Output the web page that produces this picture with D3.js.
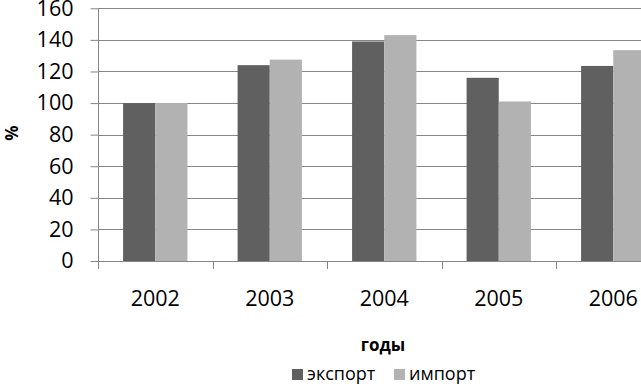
<!DOCTYPE html>
<html>
<head>
<meta charset="utf-8">
<script src="https://cdn.jsdelivr.net/npm/d3@7"></script>
<style>
	body { margin: 0; background: #ffffff; }
	svg { display: block; font-family: "Open Sans", "DejaVu Sans", sans-serif; }
</style>
</head>
<body>
<svg id="chart" width="641" height="384"></svg>
<script>
var years = ["2002", "2003", "2004", "2005", "2006"];
var exportValues = [100, 124, 139, 116, 123.5];
var importValues = [100, 127.5, 143, 101, 133.5];
var yTicks = [0, 20, 40, 60, 80, 100, 120, 140, 160];
var seriesNames = ["экспорт", "импорт"];
var seriesColors = ["#606060", "#b2b2b2"];

var svg = d3.select("#chart");

// plot area runs past the right edge, like the original
var x = d3.scaleBand()
	.domain(years)
	.range([98, 98 + 5 * 114.5]);

var y = d3.scaleLinear()
	.domain([0, 160])
	.range([261, 8.3]);

var inner = d3.scaleBand()
	.domain(seriesNames)
	.range([0, x.bandwidth()])
	.paddingInner(0)
	.paddingOuter(0.78);

// gridlines
svg.append("g")
	.selectAll("line")
	.data(yTicks.filter(function(d) { return d > 0; }))
	.enter().append("line")
	.attr("x1", 98)
	.attr("x2", 641)
	.attr("y1", function(d) { return Math.round(y(d)) + 0.5; })
	.attr("y2", function(d) { return Math.round(y(d)) + 0.5; })
	.style("stroke", "#868686")
	.style("stroke-width", 1);

// bars
var rows = years.map(function(yr, i) {
	return { year: yr, values: [exportValues[i], importValues[i]] };
});

var groups = svg.append("g")
	.selectAll("g")
	.data(rows)
	.enter().append("g")
	.attr("transform", function(d) { return "translate(" + x(d.year) + ",0)"; });

groups.selectAll("rect")
	.data(function(d) {
		return d.values.map(function(v, j) { return { name: seriesNames[j], value: v, color: seriesColors[j] }; });
	})
	.enter().append("rect")
	.attr("x", function(d) { return inner(d.name); })
	.attr("width", inner.bandwidth())
	.attr("y", function(d) { return y(d.value); })
	.attr("height", function(d) { return y(0) - y(d.value); })
	.style("fill", function(d) { return d.color; });

// y axis
var yAxis = svg.append("g")
	.attr("transform", "translate(98.5,0)")
	.call(d3.axisLeft(y).tickValues(yTicks).tickSize(8).tickPadding(17));

yAxis.select(".domain").attr("d", "M0," + y(160) + "V" + (y(0) + 0.5)).style("stroke", "#868686");
yAxis.selectAll(".tick line").style("stroke", "#868686");
yAxis.selectAll(".tick text")
	.attr("font-size", "21.5px")
	.attr("font-family", "'Open Sans', sans-serif")
	.style("fill", "#000000");

// x axis
var xAxis = svg.append("g")
	.attr("transform", "translate(0," + (Math.round(y(0)) + 0.5) + ")")
	.call(d3.axisBottom(x).tickSize(0).tickPadding(29));

xAxis.select(".domain").attr("d", "M98,0H641").style("stroke", "#868686");
xAxis.selectAll(".tick text")
	.attr("font-size", "21.5px")
	.attr("font-family", "'Open Sans', sans-serif")
	.style("fill", "#000000");

// category separators
svg.append("g")
	.selectAll("line")
	.data(years)
	.enter().append("line")
	.attr("x1", function(d) { return Math.round(x(d)) + 0.5; })
	.attr("x2", function(d) { return Math.round(x(d)) + 0.5; })
	.attr("y1", Math.round(y(0)))
	.attr("y2", Math.round(y(0)) + 8)
	.style("stroke", "#868686");

// axis titles
svg.append("text")
	.attr("transform", "translate(18,133) rotate(-90)")
	.attr("font-size", "17px")
	.attr("font-weight", "bold")
	.style("text-anchor", "middle")
	.text("%");

svg.append("text")
	.attr("x", 383)
	.attr("y", 351)
	.attr("font-size", "17px")
	.attr("font-weight", "bold")
	.style("text-anchor", "middle")
	.text("годы");

// legend
var legendX = [292, 394];
var legend = svg.append("g")
	.selectAll("g")
	.data(seriesNames)
	.enter().append("g")
	.attr("transform", function(d, i) { return "translate(" + legendX[i] + ",369)"; });

legend.append("rect")
	.attr("width", 11)
	.attr("height", 11)
	.style("fill", function(d, i) { return seriesColors[i]; });

legend.append("text")
	.attr("x", 15)
	.attr("y", 11)
	.attr("font-size", "18px")
	.style("fill", "#000000")
	.text(function(d) { return d; });
</script>
</body>
</html>
